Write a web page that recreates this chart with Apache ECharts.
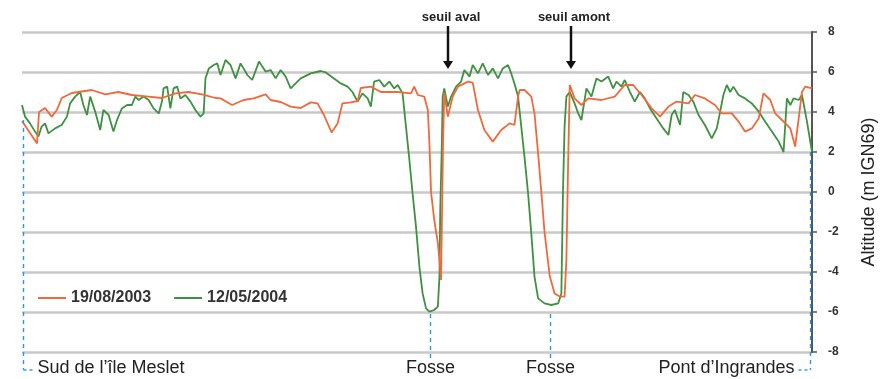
<!DOCTYPE html>
<html>
<head>
<meta charset="utf-8">
<script src="https://cdn.jsdelivr.net/npm/echarts@6/dist/echarts.min.js"></script>
<style>
  html, body { margin: 0; padding: 0; background: #fff; }
  #chart { width: 889px; height: 379px; }
</style>
</head>
<body>
<div id="chart"></div>
<script>
// distance along the profile (arbitrary units, 0 = Sud de l'île Meslet)
const profil2003 = [
  [0, 3.55], [3.75, 2.43], [4.25, 4.0], [5.75, 4.2], [7.4, 3.77], [8.7, 4.1], [9.9, 4.7],
  [12.4, 4.95], [17.4, 5.1], [20.75, 4.88], [24, 5.0], [27.4, 4.85], [31.5, 4.77],
  [34.9, 4.7], [38.25, 4.93], [41.5, 5.0], [44.9, 4.88], [48.25, 4.7], [49.5, 4.68],
  [52.4, 4.35], [55.25, 4.6], [57.75, 4.68], [60.75, 4.88], [62, 4.6], [64.5, 4.5],
  [67, 4.27], [69.5, 4.2], [72, 4.48], [73.7, 4.43], [75.3, 3.85], [77.2, 2.98],
  [78.7, 3.43], [79.9, 4.43], [82, 4.48], [83.7, 4.55], [84.5, 5.2], [87, 5.27],
  [89.5, 5.0], [92, 5.0], [93.7, 5.0], [97, 4.93], [97.8, 5.27], [98.7, 4.85],
  [100.3, 4.77], [101.2, 4.1], [101.6, 2.43], [102, 0], [102.8, -1.4], [103.7, -2.55],
  [104.1, -3.4], [104.5, -4.4], [105, 2.5], [105.3, 4.95], [106.2, 3.77], [107.4, 4.77],
  [108.7, 5.27], [111.2, 5.52], [112.4, 5.47], [113.7, 4.1], [115.3, 3.1], [117.4, 2.52],
  [119.5, 3.1], [121.6, 3.43], [122.8, 3.35], [123.7, 4.77], [124.1, 5.1], [125.3, 5.1],
  [127, 4.77], [127.8, 3.93], [128.7, 1.93], [129.5, 0], [130.3, -2], [131.6, -4.2],
  [132.8, -5.07], [134.1, -5.23], [135.3, -5.23], [135.75, -3.4], [136.2, 1.6],
  [136.6, 5.35], [137.8, 4.68], [139.5, 4.35], [141.2, 4.68], [144.5, 4.6], [147.8, 4.77],
  [150.3, 5.35], [152.4, 5.35], [154.5, 4.85], [157, 4.18], [159.1, 3.77], [161.2, 4.27],
  [163.25, 4.52], [166.2, 4.43], [167.8, 4.85], [170.3, 4.68], [172.8, 4.35], [174.5, 3.93],
  [177, 3.93], [178.7, 3.52], [180.3, 3.02], [182, 3.18], [183.7, 3.68], [184.9, 4.93],
  [186.6, 4.6], [187.8, 3.93], [189.5, 3.6], [191.6, 3.18], [192.8, 2.27], [193.25, 2.35],
  [194.5, 5.0], [195.3, 5.27], [197, 5.18]
];

const profil2004 = [
  [0, 4.35], [0.75, 3.77], [2, 3.43], [3.25, 3.02], [4.1, 2.77], [4.9, 3.27], [5.75, 3.43],
  [6.6, 2.93], [8.25, 3.18], [9.9, 3.35], [11.2, 3.77], [12, 4.43], [13.25, 4.77],
  [14.5, 5.0], [15.3, 4.35], [16.2, 3.85], [17, 4.77], [18.25, 4.02], [19.5, 3.1],
  [20.3, 4.1], [21.6, 3.85], [22.8, 3.02], [23.7, 3.6], [24.9, 4.18], [26.2, 4.35],
  [27.4, 4.35], [28.25, 4.77], [29.1, 4.6], [30.3, 4.77], [31.6, 4.6], [32.8, 4.18],
  [34.1, 3.93], [34.9, 4.52], [35.3, 5.18], [36.2, 5.27], [37, 4.18], [37.8, 5.18],
  [38.7, 5.27], [39.5, 4.68], [40.75, 4.85], [42, 4.52], [43.25, 4.1], [44.5, 3.77],
  [45.3, 3.93], [45.75, 5.68], [46.6, 6.18], [47.8, 6.35], [48.7, 6.43], [49.5, 5.85],
  [50.75, 6.6], [52, 6.35], [53.25, 5.68], [54.5, 6.43], [56.2, 5.85], [57.4, 5.6],
  [59.1, 6.52], [60.75, 6.02], [62, 6.1], [63.25, 5.68], [64.5, 6.1], [65.75, 5.77],
  [67, 5.18], [68.25, 5.43], [69.5, 5.68], [72, 5.93], [74.5, 6.05], [75.75, 5.98],
  [77.8, 5.68], [79.5, 5.43], [81.2, 5.27], [82.4, 5.0], [83.7, 4.52], [84.9, 4.93],
  [86.2, 4.68], [87, 4.27], [87.8, 5.52], [89.1, 5.6], [90.3, 5.27], [91.6, 5.52],
  [92.8, 5.18], [93.7, 5.35], [94.9, 4.93], [95.75, 3.27], [96.6, 1.6], [97.4, -0.07],
  [98.25, -1.73], [99.1, -3.73], [99.9, -5.07], [100.75, -5.82], [101.6, -5.98],
  [102.8, -5.9], [103.7, -5.73], [104.1, -4.23], [104.3, -0.85], [104.7, 2.43],
  [104.9, 4.77], [105.3, 5.18], [106.2, 4.27], [107, 4.77], [108.25, 5.27], [109.5, 5.52],
  [110.3, 6.1], [111.6, 5.77], [112.4, 6.35], [113.7, 5.93], [114.9, 6.43], [116.2, 5.85],
  [117.4, 6.18], [118.7, 5.68], [119.9, 6.18], [121.2, 6.35], [122, 5.93], [122.8, 5.43],
  [123.7, 4.77], [124.5, 3.27], [125.3, 1.77], [126.2, -0.07], [127, -2.07], [127.8, -4.23],
  [128.7, -5.32], [130.3, -5.57], [132, -5.65], [133.7, -5.57], [134.5, -5.07], [134.9, 0],
  [135.3, 3.27], [135.75, 4.77], [136.6, 5.0], [137.8, 4.43], [138.7, 3.93], [139.5, 3.6],
  [140.75, 5.18], [142, 4.77], [143.25, 5.68], [144.5, 5.52], [146.2, 5.77], [147.4, 5.18],
  [148.25, 5.52], [149.5, 5.27], [150.3, 5.6], [151.6, 5.0], [152.8, 4.52], [154.1, 5.0],
  [155.3, 4.68], [156.6, 4.18], [158.25, 3.68], [159.9, 3.18], [161.2, 2.85], [162, 3.85],
  [162.8, 4.1], [164.1, 3.35], [164.9, 5.0], [166.2, 4.85], [167.4, 4.52], [168.7, 3.85],
  [170.3, 3.35], [172, 2.68], [173.25, 3.18], [174.1, 4.02], [174.9, 4.85], [175.75, 5.35],
  [176.6, 5.0], [177.4, 5.27], [178.7, 4.85], [180.3, 4.68], [182, 4.43], [183.7, 4.02],
  [185.3, 3.52], [187, 3.02], [188.7, 2.52], [189.9, 2.0], [190.75, 4.68], [191.6, 4.35],
  [192.4, 4.68], [193.7, 4.6], [194.5, 4.85], [195.75, 3.52], [197, 2.0]
];

const seriesNames = ["19/08/2003", "12/05/2004"];

// site labels along the profile, with the dashed marker top (altitude)
const sites = [
  { name: "Sud de l\u2019\u00eele Meslet", x: 0, top: 3.6, align: "left" },
  { name: "Fosse", x: 101.75, top: -6.1, align: "center" },
  { name: "Fosse", x: 131.75, top: -6.1, align: "center" },
  { name: "Pont d\u2019Ingrandes", x: 197, top: 2.0, align: "right" }
];
const seuils = [
  { name: "seuil aval", x: 106.25 },
  { name: "seuil amont", x: 137 }
];

const chart = echarts.init(document.getElementById("chart"));

chart.setOption({
  animation: false,
  grid: { left: 22, right: 77, top: 32, bottom: 27 },
  legend: {
    left: 38,
    top: 290,
    padding: 0,
    itemWidth: 28,
    itemHeight: 2,
    itemGap: 23,
    icon: "rect",
    textStyle: { fontFamily: "Liberation Sans", fontSize: 16, fontWeight: "bold", color: "#333" },
    data: seriesNames
  },
  xAxis: {
    type: "value",
    min: 0,
    max: 197,
    show: false
  },
  yAxis: {
    type: "value",
    position: "right",
    min: -8,
    max: 8,
    interval: 2,
    name: "Altitude (m IGN69)",
    nameLocation: "middle",
    nameRotate: 90,
    nameGap: 48,
    nameTextStyle: { fontFamily: "Liberation Sans", fontSize: 18, color: "#222" },
    axisLine: { show: true, onZero: false, lineStyle: { color: "#555", width: 2 } },
    axisTick: { show: true, length: 5, lineStyle: { color: "#555", width: 1.5 } },
    axisLabel: {
      margin: 16,
      fontFamily: "Liberation Sans",
      fontSize: 12,
      fontWeight: "bold",
      color: "#333"
    },
    splitLine: { show: true, lineStyle: { color: "#c9c9c9", width: 2.5 } }
  },
  series: [
    {
      name: seriesNames[0],
      type: "line",
      data: profil2003,
      showSymbol: false,
      symbol: "none",
      lineStyle: { color: "#f0693c", width: 1.8 },
      itemStyle: { color: "#f0693c" },
      z: 3
    },
    {
      name: seriesNames[1],
      type: "line",
      data: profil2004,
      showSymbol: false,
      symbol: "none",
      lineStyle: { color: "#3f9142", width: 1.8 },
      itemStyle: { color: "#3f9142" },
      z: 2
    }
  ]
});

// annotations placed from the chart's own scales
const graphics = [];
const bottom = chart.convertToPixel({ gridIndex: 0 }, [0, -8])[1];
const labelY = bottom + 16;
sites.forEach((s) => {
  const p = chart.convertToPixel({ gridIndex: 0 }, [s.x, s.top]);
  const px = Math.round(p[0]) + 0.5 + (s.align === "left" ? 1 : s.align === "right" ? -2 : 0);
  graphics.push({
    type: "line",
    shape: { x1: px, y1: p[1], x2: px, y2: labelY + 2 },
    style: { stroke: "#1f9fe4", lineWidth: 1.4, lineDash: [4, 4] },
    z: 5
  });
  if (s.align === "left") {
    graphics.push({
      type: "line",
      shape: { x1: px, y1: labelY + 2, x2: px + 10, y2: labelY + 2 },
      style: { stroke: "#1f9fe4", lineWidth: 1.4, lineDash: [3, 3] }
    });
  } else if (s.align === "right") {
    graphics.push({
      type: "line",
      shape: { x1: px - 12, y1: labelY + 2, x2: px, y2: labelY + 2 },
      style: { stroke: "#1f9fe4", lineWidth: 1.4, lineDash: [3, 3] }
    });
  }
  const tx = s.align === "left" ? px + 14 : s.align === "right" ? px - 16 : px;
  graphics.push({
    type: "text",
    x: tx,
    y: labelY,
    style: {
      text: s.name,
      fontFamily: "Liberation Sans",
      fontSize: 18,
      fill: "#222",
      textAlign: s.align,
      textVerticalAlign: "middle",
      backgroundColor: "#fff"
    },
    z: 10
  });
});

seuils.forEach((s) => {
  const tip = chart.convertToPixel({ gridIndex: 0 }, [s.x, 6.15]);
  const px = Math.round(tip[0]);
  graphics.push({
    type: "text",
    x: px + 3,
    y: 17,
    style: {
      text: s.name,
      fontFamily: "Liberation Sans Narrow, Liberation Sans",
      fontSize: 13,
      fontWeight: "bold",
      fill: "#222",
      textAlign: "center",
      textVerticalAlign: "middle"
    },
    z: 10
  });
  graphics.push({
    type: "line",
    shape: { x1: px, y1: 26, x2: px, y2: tip[1] - 6 },
    style: { stroke: "#111", lineWidth: 2.5 },
    z: 10
  });
  graphics.push({
    type: "polygon",
    shape: { points: [[px - 5, tip[1] - 8], [px + 5, tip[1] - 8], [px, tip[1]]] },
    style: { fill: "#111" },
    z: 10
  });
});

chart.setOption({ graphic: graphics });
</script>
</body>
</html>
